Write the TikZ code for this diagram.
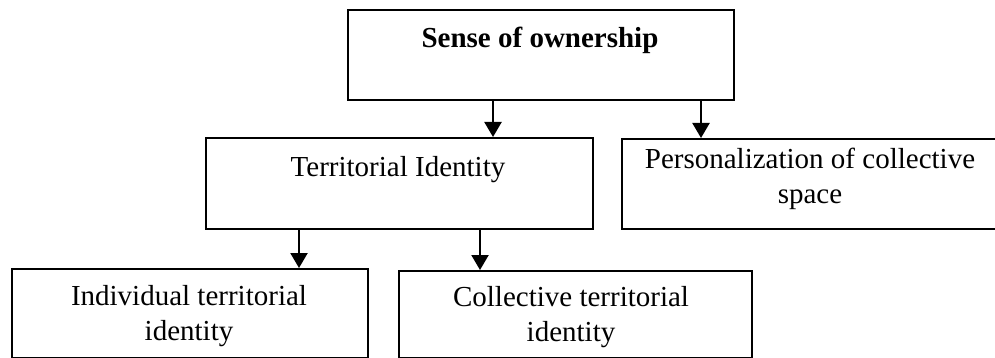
\documentclass[tikz,border=0pt]{standalone}
\usepackage{fontspec}
\setmainfont{Liberation Serif}
\usetikzlibrary{arrows.meta}
\begin{document}
\begin{tikzpicture}[x=1pt,y=-1pt,
  box/.style={draw, line width=2.2pt, rectangle, inner sep=0pt, anchor=north west},
  label/.style={inner sep=0pt, anchor=base, align=center,
    font=\fontsize{29}{35}\selectfont},
  arr/.style={line width=2.2pt, -{Triangle[width=17pt,length=15pt]}}]
\useasboundingbox (0,0) rectangle (995,358);

% boxes
\node[box, minimum width=386pt, minimum height=90pt] (own) at (347,9) {};
\node[box, minimum width=387pt, minimum height=91pt] (tid) at (205,137) {};
\node[box, minimum width=378pt, minimum height=90pt] (pers) at (621,138) {};
\node[box, minimum width=356pt, minimum height=89pt] (ind) at (11,268) {};
\node[box, minimum width=353pt, minimum height=87pt] (col) at (398,270) {};

% box texts (base anchor sits on the last line)
\node[label, font=\fontsize{29}{35}\selectfont\bfseries] (ownT) at (540,48) {Sense of ownership};
\node[label] (tidT) at (398,176) {Territorial Identity};
\node[label] (persT) at (810,204) {Personalization of collective\\space};
\node[label] (indT) at (189,340) {Individual territorial\\identity};
\node[label] (colT) at (571,341) {Collective territorial\\identity};

% connector positions
\coordinate (c1) at (493,0);
\coordinate (c2) at (701,0);
\coordinate (c3) at (299,0);
\coordinate (c4) at (480,0);

% connectors
\draw[arr] (own.south -| c1) -- (tid.north -| c1);
\draw[arr] (own.south -| c2) -- (pers.north -| c2);
\draw[arr] (tid.south -| c3) -- (ind.north -| c3);
\draw[arr] (tid.south -| c4) -- (col.north -| c4);
\end{tikzpicture}
\end{document}
